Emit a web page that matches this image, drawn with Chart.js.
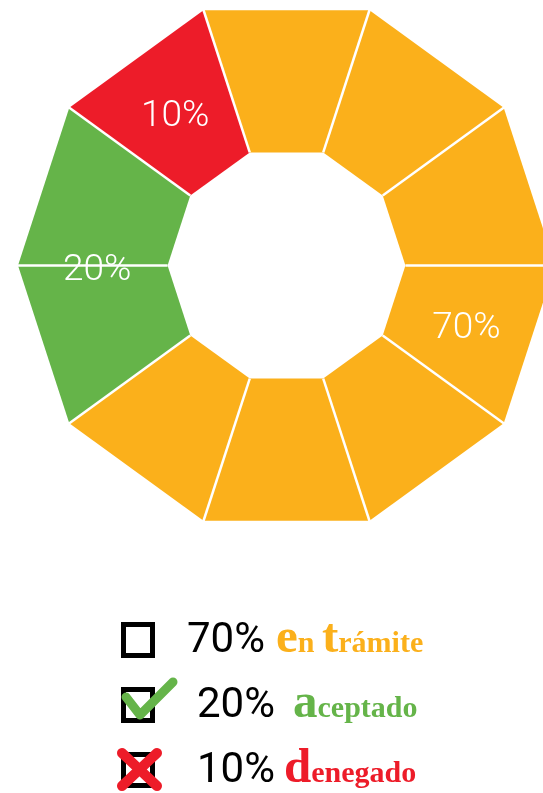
<!DOCTYPE html>
<html>
<head>
<meta charset="utf-8">
<script src="https://cdn.jsdelivr.net/npm/chart.js@4.4.1/dist/chart.umd.min.js"></script>
<style>
    html, body { margin: 0; padding: 0; background: #fff; overflow: hidden; }
    #wrap { position: relative; width: 543px; height: 793px; }
    #decagon { position: absolute; left: 0; top: 0; }
    #legend { position: absolute; left: 0; top: 0; }
</style>
</head>
<body>
<div id="wrap">
    <canvas id="decagon" width="543" height="540"></canvas>
    <svg id="legend" width="543" height="793" xmlns="http://www.w3.org/2000/svg"></svg>
</div>
<script>
// data
var categories = ['en trámite', 'aceptado', 'denegado'];
var percents = [70, 20, 10];
var sliceStep = 10; // each wedge of the decagon is 10%

var catColors = ['#FBB01B', '#65B449', '#ED1C29'];

// split every category into 10% wedges
var sliceLabels = [];
var sliceValues = [];
var sliceColors = [];
var sliceCat = [];
for (var i = 0; i < categories.length; i++) {
    var n = Math.round(percents[i] / sliceStep);
    for (var k = 0; k < n; k++) {
        sliceLabels.push(categories[i]);
        sliceValues.push(sliceStep);
        sliceColors.push(catColors[i]);
        sliceCat.push(i);
    }
}

// draw every arc as a straight edged trapezoid instead of a curved arc
var straightArcs = {
    id: 'straightArcs',
    beforeDatasetDraw: function (chart, args) {
        var c = chart.ctx;
        var arcs = args.meta.data;
        c.save();
        arcs.forEach(function (arc) {
            var p = arc.getProps(['x', 'y', 'startAngle', 'endAngle', 'innerRadius', 'outerRadius'], true);
            c.beginPath();
            c.moveTo(p.x + p.outerRadius * Math.cos(p.startAngle), p.y + p.outerRadius * Math.sin(p.startAngle));
            c.lineTo(p.x + p.outerRadius * Math.cos(p.endAngle), p.y + p.outerRadius * Math.sin(p.endAngle));
            c.lineTo(p.x + p.innerRadius * Math.cos(p.endAngle), p.y + p.innerRadius * Math.sin(p.endAngle));
            c.lineTo(p.x + p.innerRadius * Math.cos(p.startAngle), p.y + p.innerRadius * Math.sin(p.startAngle));
            c.closePath();
            c.fillStyle = arc.options.backgroundColor;
            c.fill();
        });
        // white separators between the wedges
        c.strokeStyle = '#ffffff';
        c.lineWidth = 2.5;
        arcs.forEach(function (arc) {
            var p = arc.getProps(['x', 'y', 'startAngle', 'innerRadius', 'outerRadius'], true);
            c.beginPath();
            c.moveTo(p.x + p.innerRadius * Math.cos(p.startAngle), p.y + p.innerRadius * Math.sin(p.startAngle));
            c.lineTo(p.x + (p.outerRadius + 2) * Math.cos(p.startAngle), p.y + (p.outerRadius + 2) * Math.sin(p.startAngle));
            c.stroke();
        });
        c.restore();
        return false;
    },
    afterDatasetsDraw: function (chart) {
        var c = chart.ctx;
        var arcs = chart.getDatasetMeta(0).data;
        c.save();
        c.fillStyle = '#ffffff';
        c.font = '300 37px Roboto';
        c.textAlign = 'center';
        c.textBaseline = 'alphabetic';
        for (var i = 0; i < categories.length; i++) {
            var first = sliceCat.indexOf(i);
            var last = sliceCat.lastIndexOf(i);
            if (first < 0) continue;
            var a = arcs[first].getProps(['x', 'y', 'startAngle', 'innerRadius', 'outerRadius'], true);
            var b = arcs[last].getProps(['endAngle'], true);
            var mid = (a.startAngle + b.endAngle) / 2;
            var r = a.innerRadius + (a.outerRadius - a.innerRadius) * 0.47;
            c.fillText(percents[i] + '%', a.x + r * Math.cos(mid), a.y + r * Math.sin(mid) + 14);
        }
        c.restore();
    }
};

var ctx = document.getElementById('decagon');
new Chart(ctx, {
    type: 'doughnut',
    data: {
        labels: sliceLabels,
        datasets: [{
            data: sliceValues,
            backgroundColor: sliceColors,
            borderWidth: 0
        }]
    },
    options: {
        responsive: false,
        animation: false,
        rotation: -18,
        radius: 268.5,
        cutout: '44.3%',
        layout: {
            padding: { left: 30, right: 0, top: 0, bottom: 9 }
        },
        plugins: {
            legend: { display: false },
            tooltip: { enabled: false }
        }
    },
    plugins: [straightArcs]
});

// legend below the chart (checkbox icons + text)
var NS = 'http://www.w3.org/2000/svg';
var svg = document.getElementById('legend');
function el(tag, attrs, parent) {
    var e = document.createElementNS(NS, tag);
    for (var key in attrs) e.setAttribute(key, attrs[key]);
    (parent || svg).appendChild(e);
    return e;
}

var rowBase = [652, 717, 782];
var pctX = [187, 197, 197];
var lblX = [276, 293, 284];

for (var i = 0; i < categories.length; i++) {
    var boxTop = rowBase[i] - 30;
    // checkbox
    el('rect', { x: 123.5, y: boxTop + 2.5, width: 29, height: 31, fill: 'none', stroke: '#000', 'stroke-width': 5 });
    if (i === 1) {
        el('polyline', { points: '126,' + (boxTop + 10) + ' 140,' + (boxTop + 28) + ' 173,' + (boxTop - 5),
            fill: 'none', stroke: catColors[1], 'stroke-width': 9, 'stroke-linecap': 'round', 'stroke-linejoin': 'round' });
    }
    if (i === 2) {
        el('line', { x1: 122, y1: boxTop + 1, x2: 157, y2: boxTop + 34, stroke: catColors[2], 'stroke-width': 10, 'stroke-linecap': 'round' });
        el('line', { x1: 157, y1: boxTop + 1, x2: 122, y2: boxTop + 34, stroke: catColors[2], 'stroke-width': 10, 'stroke-linecap': 'round' });
    }

    var t = el('text', { x: pctX[i], y: rowBase[i], 'font-family': 'Roboto', 'font-size': 42, fill: '#000' });
    t.textContent = percents[i] + '%';

    // category name, first letter of each word bigger
    var lbl = el('text', { x: lblX[i], y: rowBase[i], 'font-family': 'Liberation Serif', 'font-weight': 'bold', 'font-size': 30, fill: catColors[i] });
    var words = categories[i].split(' ');
    words.forEach(function (w, j) {
        var big = el('tspan', { 'font-size': 49 }, lbl);
        big.textContent = w.charAt(0);
        var rest = el('tspan', {}, lbl);
        rest.textContent = w.slice(1) + (j < words.length - 1 ? ' ' : '');
    });
}
</script>
</body>
</html>
